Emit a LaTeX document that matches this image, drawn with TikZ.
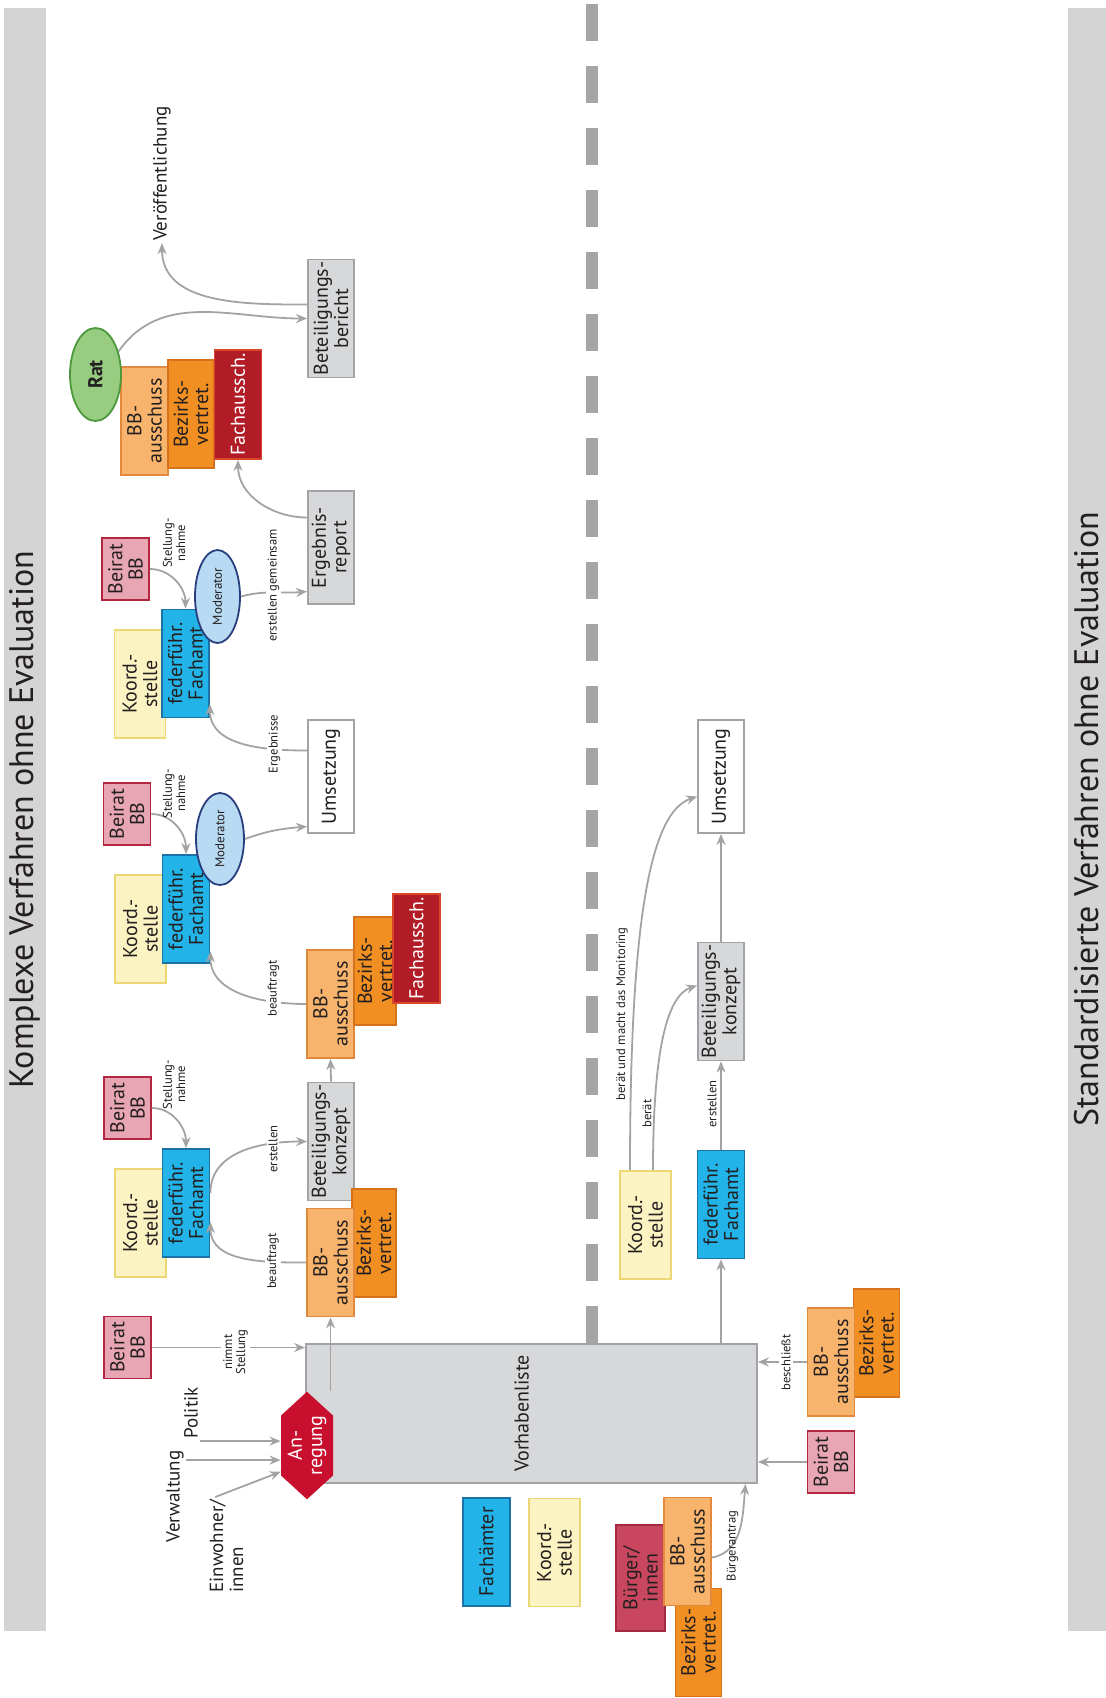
\documentclass[tikz,border=0pt]{standalone}
\usepackage{fontspec}
\setmainfont{PT Sans}
\usepackage{tikz}
\usetikzlibrary{shapes.geometric,shapes.symbols,arrows.meta,positioning,calc}

\definecolor{txt}{HTML}{231F20}
\definecolor{barfill}{HTML}{D4D4D4}
\definecolor{arrgray}{HTML}{A3A3A3}
\definecolor{dashgray}{HTML}{A5A5A7}
\definecolor{beiratfill}{HTML}{E8A5B4}
\definecolor{beiratdraw}{HTML}{B3263F}
\definecolor{koordfill}{HTML}{FCF3C2}
\definecolor{koorddraw}{HTML}{EBD874}
\definecolor{fachfill}{HTML}{22B3E8}
\definecolor{fachdraw}{HTML}{1C72A6}
\definecolor{modfill}{HTML}{B8DAF2}
\definecolor{moddraw}{HTML}{283E7E}
\definecolor{bbfill}{HTML}{F8B46C}
\definecolor{bbdraw}{HTML}{E2893D}
\definecolor{bzfill}{HTML}{F18F22}
\definecolor{bzdraw}{HTML}{D6721B}
\definecolor{fafill}{HTML}{B11C27}
\definecolor{fadraw}{HTML}{D9472A}
\definecolor{ratfill}{HTML}{98CC80}
\definecolor{ratdraw}{HTML}{4B993C}
\definecolor{grayfill}{HTML}{D7D8DA}
\definecolor{graydraw}{HTML}{A1A3A6}
\definecolor{anrfill}{HTML}{C8102E}
\definecolor{buergerfill}{HTML}{C9475E}
\definecolor{buergerdraw}{HTML}{A2293F}

\tikzset{
  box/.style={rotate=90, draw, line width=0.9pt, align=center, inner sep=1pt,
    text=txt, font=\fontsize{10}{10.2}\selectfont},
  beirat/.style={box, fill=beiratfill, draw=beiratdraw, minimum width=31pt, minimum height=23.5pt},
  koord/.style={box, fill=koordfill, draw=koorddraw, minimum width=54pt, minimum height=25.5pt},
  fach/.style={box, fill=fachfill, draw=fachdraw, minimum width=54pt, minimum height=23.5pt},
  bbaus/.style={box, fill=bbfill, draw=bbdraw, minimum width=54pt, minimum height=23.5pt},
  bezirk/.style={box, fill=bzfill, draw=bzdraw, minimum width=54pt, minimum height=23pt},
  fachaus/.style={box, fill=fafill, draw=fadraw, text=white, minimum width=54.5pt, minimum height=23.5pt},
  doc/.style={box, fill=grayfill, draw=graydraw, minimum width=56.5pt, minimum height=23pt},
  result/.style={box, fill=white, draw=graydraw, minimum width=56.5pt, minimum height=23pt},
  moder/.style={rotate=90, ellipse, draw=moddraw, fill=modfill, line width=0.9pt, inner sep=0pt,
    text=txt, font=\fontsize{6.5}{7}\selectfont},
  anreg/.style={rotate=90, signal, signal from=nowhere, signal to=east and west, signal pointer angle=95,
    fill=anrfill, text=white, align=center, inner sep=0pt, minimum width=51.5pt, minimum height=26pt,
    font=\fontsize{10}{10.2}\selectfont},
  freetxt/.style={rotate=90, align=left, inner sep=1pt, text=txt, font=\fontsize{9.5}{10}\selectfont},
  elbl/.style={rotate=90, align=center, inner sep=1pt, text=txt, font=\fontsize{6.3}{6.6}\selectfont},
  onln/.style={elbl, fill=white},
  arr/.style={draw=arrgray, line width=0.9pt, -{Stealth[length=5.5pt, width=4.5pt]}},
  sidebar/.style={rotate=90, fill=barfill, inner sep=0pt, text=txt, font=\fontsize{17}{20}\selectfont}
}

\begin{document}
\begin{tikzpicture}[x=0.5pt, y=0.5pt]
  \useasboundingbox (0,0) rectangle (1106,-1698);

  % side bars
  \node[sidebar, minimum width=811.5pt, minimum height=21pt] (leftbar) at (25,-819.5) {Komplexe Verfahren ohne Evaluation};
  \node[sidebar, minimum width=811.5pt, minimum height=19pt] (rightbar) at (1087,-819.5) {Standardisierte Verfahren ohne Evaluation};

  % Rat
  \node[bbaus] (rBB) at (144.5,-421) {BB-\\ausschuss};
  \node[bezirk] (rBZ) at (191,-414) {Bezirks-\\vertret.};
  \node[fachaus] (rFA) at (238,-404.5) {Fachaussch.};
  \node[rotate=90, ellipse, fill=ratfill, draw=ratdraw, line width=0.9pt, minimum width=46.5pt,
    minimum height=25.5pt, inner sep=0pt, text=txt, font=\bfseries\fontsize{10}{12}\selectfont] (rat) at (95.5,-374.5) {Rat};
  \node[doc] (bericht) at (331,-318.5) {Beteiligungs-\\bericht};
  \node[freetxt] (veroeff) at (162,-173.5) {Veröffentlichung};

  % Stufe 3
  \node[beirat] (beirat3) at (125.5,-569) {Beirat\\BB};
  \node[koord] (koord3) at (140,-684) {Koord.-\\stelle};
  \node[fach] (fach3) at (185.5,-663.5) {federführ.\\Fachamt};
  \node[moder, minimum width=46.5pt, minimum height=22.5pt] (mod3) at (217.5,-596.5) {Moderator};
  \node[doc] (report) at (331,-547.5) {Ergebnis-\\report};
  \node[result] (umsetz3) at (331,-776.5) {Umsetzung};

  % Stufe 2
  \node[beirat] (beirat2) at (127,-814) {Beirat\\BB};
  \node[koord] (koord2) at (140.5,-929) {Koord.-\\stelle};
  \node[fach] (fach2) at (186,-909) {federführ.\\Fachamt};
  \node[moder, minimum width=46pt, minimum height=24pt] (mod2) at (220,-839) {Moderator};
  \node[bbaus] (bb2) at (330.5,-1004) {BB-\\ausschuss};
  \node[bezirk, minimum height=21pt] (bz2) at (375,-971) {Bezirks-\\vertret.};
  \node[fachaus] (fa2) at (416.5,-948.5) {Fachaussch.};

  % Stufe 1
  \node[beirat] (beirat1) at (127.5,-1108) {Beirat\\BB};
  \node[koord] (koord1) at (140.5,-1223) {Koord.-\\stelle};
  \node[fach] (fach1) at (186,-1203) {federführ.\\Fachamt};
  \node[doc] (konzept1) at (331,-1141.5) {Beteiligungs-\\konzept};
  \node[bezirk, minimum height=22pt] (bz1) at (374,-1243) {Bezirks-\\vertret.};
  \node[bbaus] (bb1) at (330.5,-1262.5) {BB-\\ausschuss};

  % Start
  \node[beirat] (beirat0) at (127.5,-1347.5) {Beirat\\BB};
  \node[freetxt] (politik) at (191,-1413) {Politik};
  \node[freetxt] (verwaltung) at (175,-1496.5) {Verwaltung};
  \node[freetxt] (einwohner) at (226.5,-1546) {Einwohner/\\innen};
  \node[box, fill=grayfill, draw=graydraw, minimum width=69.5pt, minimum height=225.5pt,
    text depth=10pt] (liste) at (531.5,-1413.5) {Vorhabenliste};
  \node[anreg] (anregung) at (307,-1445.5) {An-\\regung};
  \node[fach] (fachaemter) at (486.5,-1552) {Fachämter};
  \node[koord] (koordlegend) at (554.5,-1552.5) {Koord.-\\stelle};

  % Standardisiert
  \node[result] (umsetz0) at (721,-776.5) {Umsetzung};
  \node[doc] (konzept0) at (721,-1001.5) {Beteiligungs-\\konzept};
  \node[fach] (fach0) at (721,-1204.5) {federführ.\\Fachamt};
  \node[koord] (koord0) at (645.5,-1225) {Koord.-\\stelle};
  \node[bezirk] (bzR) at (876.5,-1343) {Bezirks-\\vertret.};
  \node[bbaus] (bbR) at (831,-1362) {BB-\\ausschuss};
  \node[beirat] (beiratR) at (831,-1462) {Beirat\\BB};
  \node[box, fill=buergerfill, draw=buergerdraw, minimum width=53pt, minimum height=24.5pt] (buerger) at (640.5,-1578) {Bürger/\\innen};
  \node[bezirk] (bzB) at (698.5,-1642.5) {Bezirks-\\vertret.};
  \node[bbaus] (bbB) at (687.5,-1551.5) {BB-\\ausschuss};

  % Trennlinie
  \coordinate (dashtop) at (592,0);
  \draw[dashgray, line width=6pt, dash pattern=on 18.5pt off 12.5pt] (liste.east -| dashtop) -- (dashtop);

  % connectors
  \draw[arr] (rat.-45) to[out=55, in=180] (bericht.north);
  \draw[arr] ([yshift=7pt]bericht.north) to[out=180, in=-90] (veroeff.west);
  \draw[arr] ([yshift=15pt]report.north) to[out=180, in=-90] (rFA.west);
  \draw[arr] (beirat3.south) to[out=0, in=90] (fach3.east);
  \draw[arr] (mod3.south) to[out=15, in=185] ([yshift=-22pt]report.north);
  \draw[arr] ([yshift=13pt]umsetz3.north) to[out=180, in=-90] (fach3.-149);
  \draw[arr] (beirat2.south) to[out=0, in=90] (fach2.east);
  \draw[arr] (mod2.south) to[out=20, in=185] ([yshift=-25pt]umsetz3.north);
  \draw[arr] (bb2.north) to[out=180, in=-90] (fach2.-150);
  \draw[arr] (beirat1.south) to[out=0, in=90] (fach1.east);
  \draw[arr] ([yshift=5pt]fach1.south) to[out=90, in=180] (konzept1.north);
  \draw[arr] (konzept1.east) -- (bb2.west);
  \draw[arr] (bb1.north) to[out=180, in=-90] (fach1.-128);
  \draw[arr] (bb1.west |- anregung.east) -- (bb1.west);
  \draw[arr] (beirat0.south) -- (beirat0.south -| liste.north);
  \draw[arr] (politik.south west) -- (politik.south west -| anregung.north);
  \coordinate (vw) at ([yshift=-6pt]verwaltung.south east);
  \draw[arr] (vw) -- (vw -| anregung.north);
  \draw[arr] ([xshift=4pt]einwohner.north east) -- (anregung.135);

  \draw[arr] (fach0.west |- liste.east) -- (fach0.west);
  \draw[arr] (fach0.east) -- (konzept0.west);
  \draw[arr] (konzept0.east) -- (umsetz0.west);
  \draw[arr] ([xshift=3.75pt]koord0.east) .. controls +(0,120) and +(-30,-10) .. ([yshift=8pt]konzept0.north);
  \draw[arr] ([xshift=-7.75pt]koord0.east) .. controls +(0,260) and +(-45,-15) .. ([yshift=-10pt]umsetz0.north);
  \draw[arr] (bbR.north) -- (bbR.north -| liste.south);
  \draw[arr] (beiratR.north) -- (beiratR.north -| liste.south);
  \draw[arr] ([yshift=-3pt]bbB.south) to[out=10, in=-95] ([xshift=107pt]liste.west);

  % labels
  \node[elbl] (stell3) at (174,-543) {Stellung-\\nahme};
  \node[elbl] (stell2) at (174,-793.5) {Stellung-\\nahme};
  \node[elbl] (stell1) at (174,-1084.5) {Stellung-\\nahme};
  \node[onln] (erstgem) at (273.5,-585.5) {erstellen gemeinsam};
  \node[onln] (ergeb) at (274.5,-744) {Ergebnisse};
  \node[onln] (beauf2) at (273.5,-988.5) {beauftragt};
  \node[onln] (erst1) at (273,-1149) {erstellen};
  \node[onln] (beauf1) at (273,-1261) {beauftragt};
  \node[onln] (nimmt) at (235.5,-1352) {nimmt\\Stellung};
  \node[onln] (beschl) at (786,-1362.5) {beschließt};
  \node[elbl] (bantrag) at (732.5,-1546) {Bürgerantrag};
  \node[elbl] (erst0) at (712,-1104) {erstellen};
  \node[elbl] (beraet) at (647,-1113.5) {berät};
  \node[elbl] (monit) at (622,-1014) {berät und macht das Monitoring};
\end{tikzpicture}
\end{document}
